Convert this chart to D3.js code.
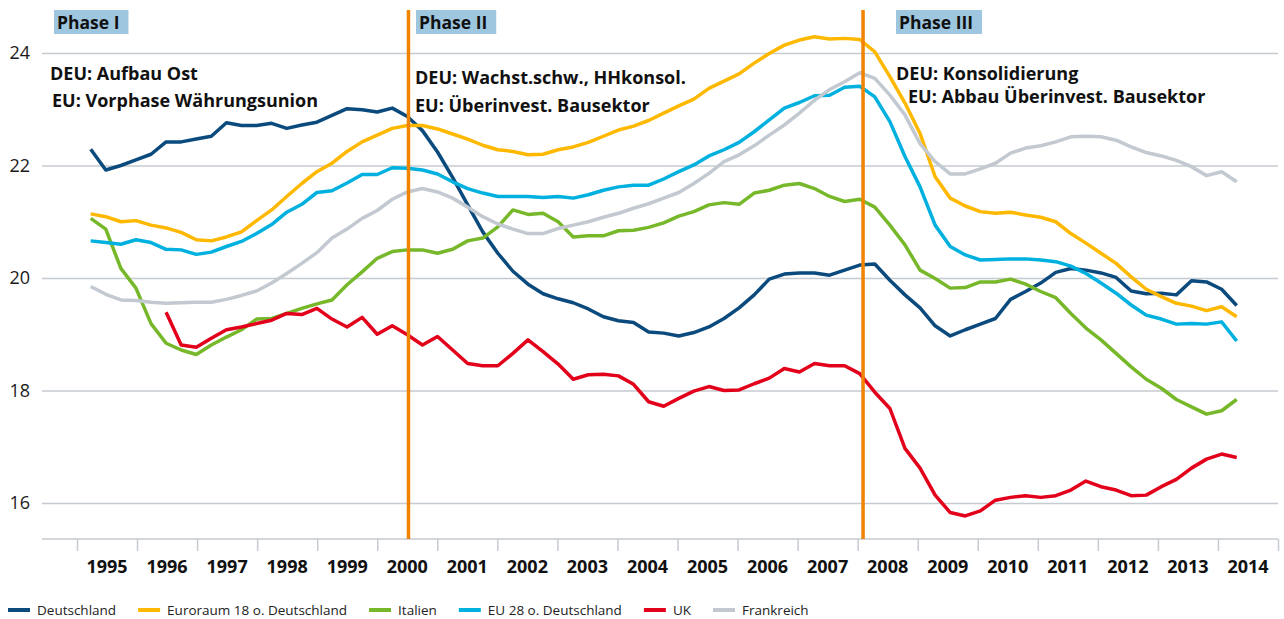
<!DOCTYPE html>
<html>
<head>
<meta charset="utf-8">
<script src="https://cdn.jsdelivr.net/npm/d3@7"></script>
<style>
  body { margin: 0; background: #fff; }
  svg { font-family: "Open Sans", sans-serif; }
</style>
</head>
<body>
<script>
// quarterly values, 1995Q1 .. 2014Q1
var years = [1995, 1996, 1997, 1998, 1999, 2000, 2001, 2002, 2003, 2004,
  2005, 2006, 2007, 2008, 2009, 2010, 2011, 2012, 2013, 2014];

var deutschland = [22.29, 21.92, 22.00, 22.10, 22.20, 22.42, 22.42, 22.47, 22.52, 22.76,
  22.71, 22.71, 22.75, 22.66, 22.72, 22.77, 22.89, 23.01, 22.99, 22.95,
  23.02, 22.87, 22.62, 22.24, 21.79, 21.30, 20.82, 20.44, 20.12, 19.89,
  19.72, 19.63, 19.56, 19.45, 19.31, 19.24, 19.21, 19.04, 19.02, 18.97,
  19.03, 19.13, 19.28, 19.47, 19.70, 19.98, 20.07, 20.09, 20.09, 20.05,
  20.14, 20.23, 20.25, 19.96, 19.70, 19.47, 19.15, 18.97, 19.08, 19.18,
  19.28, 19.62, 19.76, 19.91, 20.10, 20.17, 20.14, 20.09, 20.01, 19.77,
  19.72, 19.73, 19.70, 19.95, 19.93, 19.80, 19.51];

var euroraum = [21.14, 21.09, 21.00, 21.02, 20.94, 20.89, 20.81, 20.68, 20.66, 20.73,
  20.82, 21.02, 21.21, 21.45, 21.68, 21.89, 22.04, 22.25, 22.42, 22.54,
  22.66, 22.71, 22.71, 22.65, 22.56, 22.47, 22.36, 22.28, 22.25, 22.19,
  22.20, 22.28, 22.33, 22.41, 22.52, 22.63, 22.70, 22.80, 22.93, 23.06,
  23.18, 23.37, 23.50, 23.63, 23.82, 23.99, 24.14, 24.23, 24.29, 24.25,
  24.26, 24.24, 24.02, 23.58, 23.11, 22.57, 21.80, 21.42, 21.28, 21.18,
  21.15, 21.17, 21.12, 21.08, 21.00, 20.79, 20.62, 20.44, 20.26, 20.02,
  19.80, 19.67, 19.55, 19.50, 19.42, 19.49, 19.31];

var italien = [21.06, 20.87, 20.17, 19.82, 19.19, 18.84, 18.72, 18.64, 18.81, 18.95,
  19.08, 19.27, 19.28, 19.37, 19.46, 19.54, 19.61, 19.88, 20.11, 20.35,
  20.47, 20.50, 20.50, 20.44, 20.51, 20.66, 20.71, 20.91, 21.21, 21.13,
  21.15, 21.00, 20.73, 20.75, 20.75, 20.84, 20.85, 20.90, 20.98, 21.10,
  21.18, 21.30, 21.34, 21.31, 21.51, 21.56, 21.65, 21.68, 21.59, 21.45,
  21.36, 21.40, 21.26, 20.94, 20.59, 20.14, 19.99, 19.82, 19.83, 19.93,
  19.93, 19.98, 19.89, 19.76, 19.65, 19.37, 19.11, 18.90, 18.66, 18.42,
  18.20, 18.04, 17.84, 17.71, 17.58, 17.64, 17.84];

var eu28 = [20.66, 20.63, 20.60, 20.68, 20.63, 20.51, 20.50, 20.42, 20.46, 20.56,
  20.65, 20.79, 20.95, 21.17, 21.31, 21.52, 21.55, 21.69, 21.84, 21.84,
  21.96, 21.95, 21.92, 21.85, 21.71, 21.59, 21.51, 21.45, 21.45, 21.45,
  21.43, 21.45, 21.42, 21.48, 21.56, 21.62, 21.65, 21.65, 21.76, 21.89,
  22.01, 22.17, 22.28, 22.41, 22.60, 22.81, 23.02, 23.12, 23.24, 23.25,
  23.39, 23.41, 23.22, 22.78, 22.16, 21.62, 20.94, 20.56, 20.41, 20.32,
  20.33, 20.34, 20.34, 20.32, 20.29, 20.21, 20.08, 19.91, 19.73, 19.52,
  19.34, 19.27, 19.18, 19.19, 19.18, 19.22, 18.88];

var uk = [null, null, null, null, null, 19.39, 18.81, 18.77, 18.93, 19.08,
  19.13, 19.19, 19.25, 19.37, 19.35, 19.46, 19.27, 19.13, 19.30, 19.00,
  19.15, 18.99, 18.81, 18.96, 18.72, 18.48, 18.44, 18.44, 18.66, 18.90,
  18.69, 18.47, 18.20, 18.28, 18.29, 18.26, 18.11, 17.80, 17.72, 17.86,
  17.99, 18.07, 18.00, 18.01, 18.12, 18.22, 18.39, 18.33, 18.48, 18.44,
  18.44, 18.30, 17.97, 17.68, 16.97, 16.62, 16.14, 15.83, 15.77, 15.86,
  16.05, 16.10, 16.13, 16.10, 16.13, 16.23, 16.39, 16.29, 16.23, 16.13,
  16.14, 16.29, 16.42, 16.62, 16.78, 16.87, 16.81];

var frankreich = [19.85, 19.71, 19.61, 19.60, 19.57, 19.55, 19.56, 19.57, 19.57, 19.62,
  19.69, 19.77, 19.91, 20.08, 20.26, 20.45, 20.71, 20.87, 21.06, 21.20,
  21.40, 21.53, 21.59, 21.53, 21.42, 21.26, 21.09, 20.96, 20.87, 20.79,
  20.79, 20.88, 20.94, 21.00, 21.08, 21.15, 21.24, 21.32, 21.42, 21.52,
  21.68, 21.86, 22.07, 22.19, 22.35, 22.54, 22.72, 22.93, 23.16, 23.35,
  23.49, 23.65, 23.55, 23.25, 22.90, 22.39, 22.07, 21.85, 21.85, 21.94,
  22.04, 22.22, 22.31, 22.35, 22.42, 22.51, 22.52, 22.51, 22.45, 22.33,
  22.23, 22.17, 22.09, 21.98, 21.82, 21.89, 21.71];

var seriesNames = ["Deutschland", "Euroraum 18 o. Deutschland", "Italien",
  "EU 28 o. Deutschland", "UK", "Frankreich"];
var seriesColors = ["#0b4a7d", "#ffb800", "#77b82a", "#00b0df", "#e2001a", "#c3c9d0"];
var seriesValues = [deutschland, euroraum, italien, eu28, uk, frankreich];

var yTicks = [16, 18, 20, 22, 24];
var phaseBreaks = [2000.52, 2008.09]; // in years
var phaseLabels = ["Phase I", "Phase II", "Phase III"];
var notesDEU = ["DEU: Aufbau Ost", "DEU: Wachst.schw., HHkonsol.", "DEU: Konsolidierung"];
var notesEU = ["EU: Vorphase Währungsunion", "EU: Überinvest. Bausektor", "EU: Abbau Überinvest. Bausektor"];

var W = 1284, H = 619;
var svg = d3.select("body").append("svg").attr("width", W).attr("height", H);

var xq = d3.scaleLinear().domain([0, 76]).range([90.7, 1236.7]);
var xYear = d3.scaleLinear().domain([1995, 2015]).range([77, 1278]);
var y = d3.scaleLinear().domain([15.36, 24]).range([539, 53]);
var left = 42, right = 1278;

// grid + y labels
var yAxis = d3.axisLeft(y).tickValues(yTicks).tickSize(-(right - left)).tickPadding(12);
var gy = svg.append("g").attr("transform", "translate(" + left + ",0)").call(yAxis);
gy.select(".domain").remove();
gy.selectAll(".tick line").attr("stroke", "#c6cbd2").attr("stroke-width", 1.5);
gy.selectAll(".tick text")
  .attr("font-size", 18)
  .attr("fill", "#1a1a1a")
  .attr("font-family", "Open Sans, sans-serif");

// x axis
var xAxis = d3.axisBottom(xYear).tickValues(d3.range(1995, 2016)).tickSize(12).tickFormat("");
var gx = svg.append("g").attr("transform", "translate(0," + y(15.36) + ")").call(xAxis);
gx.select(".domain").remove();
gx.selectAll(".tick line").attr("stroke", "#c6cbd2").attr("stroke-width", 1.5);
gx.append("line")
  .attr("x1", left).attr("x2", right)
  .attr("stroke", "#c6cbd2").attr("stroke-width", 1.5);

svg.append("g")
  .selectAll("text")
  .data(years)
  .enter()
  .append("text")
  .attr("x", function (d) { return xYear(d + 0.5); })
  .attr("y", 573)
  .attr("text-anchor", "middle")
  .attr("font-weight", "bold")
  .attr("font-size", 18)
  .attr("fill", "#111")
  .text(function (d) { return d; });

// lines
var line = d3.line()
  .defined(function (d) { return d != null; })
  .x(function (d, i) { return xq(i); })
  .y(function (d) { return y(d); });

seriesValues.forEach(function (vals, k) {
  svg.append("path")
    .datum(vals)
    .attr("fill", "none")
    .attr("stroke", seriesColors[k])
    .attr("stroke-width", 3.5)
    .attr("stroke-linejoin", "round")
    .attr("d", line);
});

// phase separators
svg.selectAll(".phase")
  .data(phaseBreaks)
  .enter()
  .append("line")
  .attr("class", "phase")
  .attr("x1", function (d) { return xYear(d); })
  .attr("x2", function (d) { return xYear(d); })
  .attr("y1", 10)
  .attr("y2", y(15.36))
  .attr("stroke", "#f08300")
  .attr("stroke-width", 3.5);

// phase labels
var phaseX = [54, 416, 896];
phaseLabels.forEach(function (lab, i) {
  var g = svg.append("g");
  var box = g.append("rect")
    .attr("x", phaseX[i])
    .attr("y", 10)
    .attr("height", 24)
    .attr("fill", "#9fc6df");
  var t = g.append("text")
    .attr("x", phaseX[i] + 3)
    .attr("y", 29)
    .attr("font-weight", "bold")
    .attr("font-size", 17.5)
    .attr("fill", "#111")
    .text(lab);
  box.attr("width", t.node().getComputedTextLength() + 12);
});

// notes
var noteX = [[50, 52], [415, 415], [896, 908]];
var noteY = [[80, 107], [84, 112], [80, 103]];
for (var i = 0; i < 3; i++) {
  svg.append("text")
    .attr("x", noteX[i][0]).attr("y", noteY[i][0])
    .attr("font-weight", "bold").attr("font-size", 18).attr("fill", "#111")
    .text(notesDEU[i]);
  svg.append("text")
    .attr("x", noteX[i][1]).attr("y", noteY[i][1])
    .attr("font-weight", "bold").attr("font-size", 18).attr("fill", "#111")
    .text(notesEU[i]);
}

// legend
var lx = 8;
seriesNames.forEach(function (name, k) {
  svg.append("line")
    .attr("x1", lx).attr("x2", lx + 22)
    .attr("y1", 610).attr("y2", 610)
    .attr("stroke", seriesColors[k])
    .attr("stroke-width", 4);
  var t = svg.append("text")
    .attr("x", lx + 29)
    .attr("y", 615)
    .attr("font-size", 13.5)
    .attr("fill", "#222")
    .text(name);
  lx = lx + 29 + t.node().getComputedTextLength() + 22;
});
</script>
</body>
</html>
